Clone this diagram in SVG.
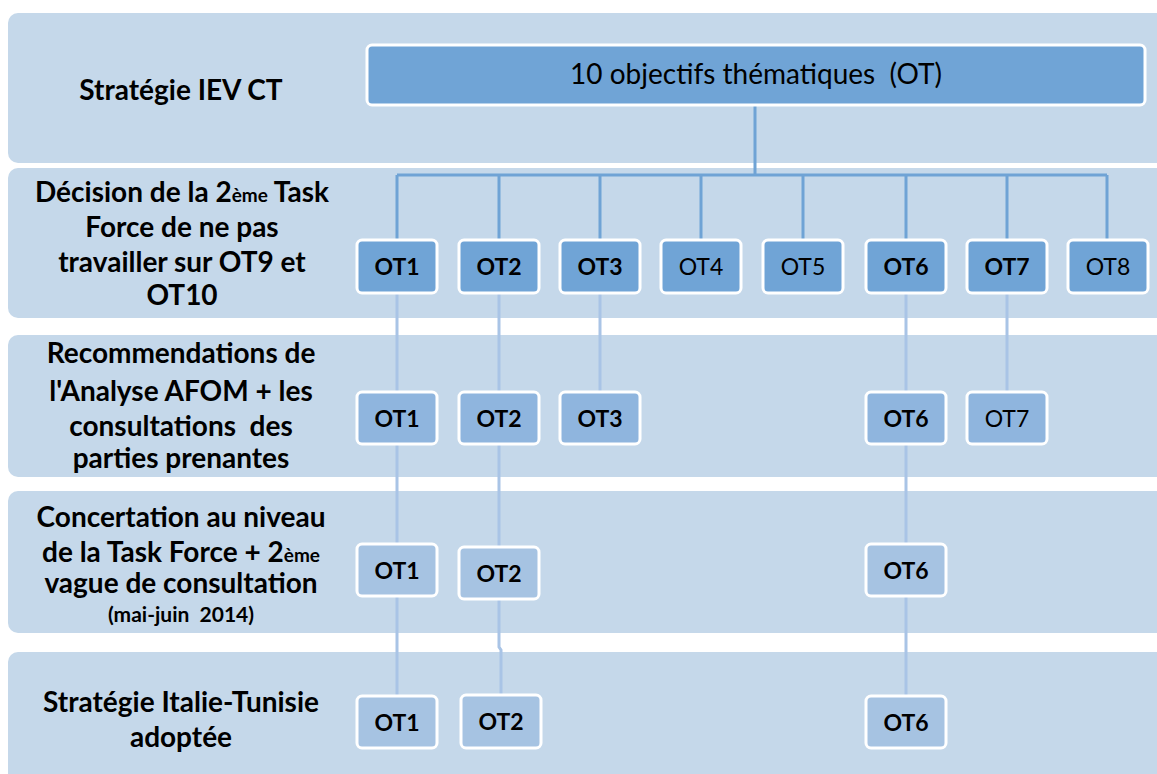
<svg xmlns="http://www.w3.org/2000/svg" width="1157" height="774" viewBox="0 0 1157 774">
<style>
.band{fill:#c5d8ea;}
.lbl{font-family:Lato,"Liberation Sans",sans-serif;font-weight:bold;font-size:28px;fill:#000;text-anchor:middle;white-space:pre;}
.sup{font-size:19px;}
.small{font-size:21px;}
.ot{stroke:#fff;stroke-width:3;}
.ot2{fill:#70a4d6;}
.ot3{fill:#8fb5de;}
.ot4{fill:#a6c3e2;}
.t{font-family:Lato,"Liberation Sans",sans-serif;font-size:23px;fill:#000;text-anchor:middle;}
.b{font-weight:bold;}
.c1{fill:none;stroke:#6fa3d5;stroke-width:3;}
.c2{fill:none;stroke:#a9c4e6;stroke-width:3;}
</style>
<rect width="1157" height="774" fill="#fff"/>
<g id="bands">
<rect class="band" x="8" y="13" width="1170" height="150" rx="10"/>
<rect class="band" x="8" y="168" width="1170" height="150" rx="10"/>
<rect class="band" x="8" y="335" width="1170" height="142" rx="10"/>
<rect class="band" x="8" y="491" width="1170" height="142" rx="10"/>
<rect class="band" x="8" y="652" width="1170" height="140" rx="10"/>
</g>
<g id="labels">
<text class="lbl" x="181" y="100">Stratégie IEV CT</text>
<text class="lbl" x="182" y="202">Décision de la 2<tspan class="sup">ème</tspan> Task</text>
<text class="lbl" x="182" y="237">Force de ne pas</text>
<text class="lbl" x="182" y="272">travailler sur OT9 et</text>
<text class="lbl" x="182" y="305">OT10</text>
<text class="lbl" x="181" y="363">Recommendations de</text>
<text class="lbl" x="181" y="401">l'Analyse AFOM + les</text>
<text class="lbl" x="181" y="436">consultations  des</text>
<text class="lbl" x="181" y="468">parties prenantes</text>
<text class="lbl" x="181" y="527">Concertation au niveau</text>
<text class="lbl" x="181" y="562">de la Task Force + 2<tspan class="sup">ème</tspan></text>
<text class="lbl" x="181" y="593">vague de consultation</text>
<text class="lbl small" x="181" y="622">(mai-juin  2014)</text>
<text class="lbl" x="181" y="712">Stratégie Italie-Tunisie</text>
<text class="lbl" x="181" y="747">adoptée</text>
</g>
<g id="connectors">
<path class="c1" d="M755,105 V175 M397,175 H1107 M397,175 V240 M499,175 V240 M600,175 V240 M701,175 V240 M803,175 V240 M906,175 V240 M1007,175 V240 M1107,175 V240"/>
<path class="c2" d="M397,293 V392 M499,293 V392 M600,293 V392 M906,293 V392 M1007,293 V392"/>
<path class="c2" d="M397,444 V545 M499,444 V547 M906,444 V545"/>
<path class="c2" d="M397,596 V697 M499,599 V647 L501,650 V697 M906,596 V697"/>
</g>
<g id="top">
<rect x="367" y="45" width="778" height="60" rx="5" fill="#70a4d6" stroke="#fff" stroke-width="3"/>
<text x="756" y="84" font-family="Lato,'Liberation Sans',sans-serif" font-size="28" text-anchor="middle" fill="#000" style="white-space:pre">10 objectifs thématiques  (OT)</text>
</g>
<g id="r2-ot1"><rect class="ot ot2" x="357" y="240" width="80" height="53" rx="5"/><text class="t b" x="397" y="275">OT1</text></g>
<g id="r2-ot2"><rect class="ot ot2" x="459" y="240" width="80" height="53" rx="5"/><text class="t b" x="499" y="275">OT2</text></g>
<g id="r2-ot3"><rect class="ot ot2" x="560" y="240" width="80" height="53" rx="5"/><text class="t b" x="600" y="275">OT3</text></g>
<g id="r2-ot4"><rect class="ot ot2" x="661" y="240" width="80" height="53" rx="5"/><text class="t" x="701" y="275">OT4</text></g>
<g id="r2-ot5"><rect class="ot ot2" x="763" y="240" width="80" height="53" rx="5"/><text class="t" x="803" y="275">OT5</text></g>
<g id="r2-ot6"><rect class="ot ot2" x="866" y="240" width="80" height="53" rx="5"/><text class="t b" x="906" y="275">OT6</text></g>
<g id="r2-ot7"><rect class="ot ot2" x="967" y="240" width="80" height="53" rx="5"/><text class="t b" x="1007" y="275">OT7</text></g>
<g id="r2-ot8"><rect class="ot ot2" x="1068" y="240" width="80" height="53" rx="5"/><text class="t" x="1108" y="275">OT8</text></g>
<g id="r3-ot1"><rect class="ot ot3" x="357" y="392" width="80" height="52" rx="5"/><text class="t b" x="397" y="427">OT1</text></g>
<g id="r3-ot2"><rect class="ot ot3" x="459" y="392" width="80" height="52" rx="5"/><text class="t b" x="499" y="427">OT2</text></g>
<g id="r3-ot3"><rect class="ot ot3" x="560" y="392" width="80" height="52" rx="5"/><text class="t b" x="600" y="427">OT3</text></g>
<g id="r3-ot6"><rect class="ot ot3" x="866" y="392" width="80" height="52" rx="5"/><text class="t b" x="906" y="427">OT6</text></g>
<g id="r3-ot7"><rect class="ot ot3" x="967" y="392" width="80" height="52" rx="5"/><text class="t" x="1007" y="427">OT7</text></g>
<g id="r4-ot1"><rect class="ot ot4" x="357" y="544" width="80" height="52" rx="5"/><text class="t b" x="397" y="579">OT1</text></g>
<g id="r4-ot2"><rect class="ot ot4" x="459" y="547" width="80" height="52" rx="5"/><text class="t b" x="499" y="582">OT2</text></g>
<g id="r4-ot6"><rect class="ot ot4" x="866" y="544" width="80" height="52" rx="5"/><text class="t b" x="906" y="579">OT6</text></g>
<g id="r5-ot1"><rect class="ot ot4" x="357" y="696" width="80" height="52" rx="5"/><text class="t b" x="397" y="731">OT1</text></g>
<g id="r5-ot2"><rect class="ot ot4" x="461" y="695" width="80" height="53" rx="5"/><text class="t b" x="501" y="730">OT2</text></g>
<g id="r5-ot6"><rect class="ot ot4" x="866" y="696" width="80" height="52" rx="5"/><text class="t b" x="906" y="731">OT6</text></g>
</svg>
